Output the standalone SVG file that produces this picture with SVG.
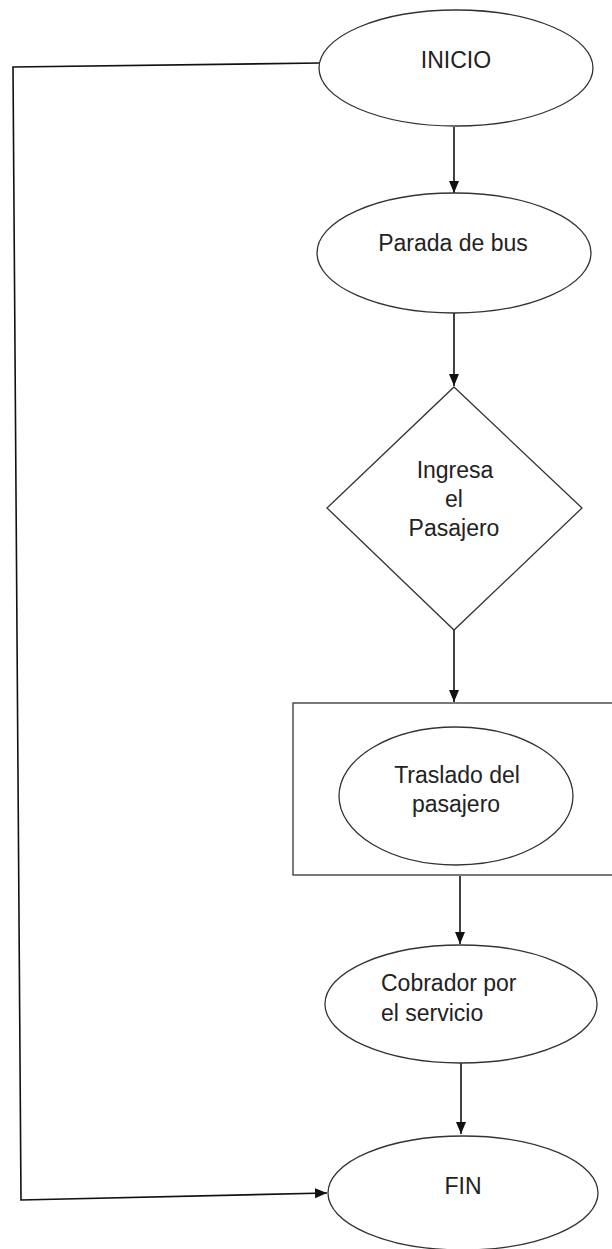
<svg xmlns="http://www.w3.org/2000/svg" width="612" height="1249" viewBox="0 0 612 1249">
<style>
.shape{fill:#fff;stroke:#333;stroke-width:1.3}
.line{fill:none;stroke:#111;stroke-width:1.6}
.t{font-family:"Liberation Sans",Arial,sans-serif;font-size:23px;fill:#222}
.c{text-anchor:middle}
</style>
<defs>
<marker id="ah" markerUnits="userSpaceOnUse" markerWidth="13" markerHeight="11" refX="12" refY="5" orient="auto">
<path d="M0,0 L12,5 L0,10 z" fill="#111"/>
</marker>
</defs>
<rect width="612" height="1249" fill="#fff"/>
<g id="connectors">
<line class="line" x1="454" y1="127" x2="454" y2="193" marker-end="url(#ah)"/>
<line class="line" x1="454" y1="313" x2="454" y2="386" marker-end="url(#ah)"/>
<line class="line" x1="454" y1="630" x2="454" y2="702" marker-end="url(#ah)"/>
<line class="line" x1="460" y1="876" x2="460" y2="944" marker-end="url(#ah)"/>
<line class="line" x1="461" y1="1063" x2="461" y2="1134" marker-end="url(#ah)"/>
<polyline class="line" points="320,63 13,67 21,1200 327,1193" marker-end="url(#ah)"/>
</g>
<g id="inicio">
<ellipse class="shape" cx="456" cy="68" rx="137" ry="58"/>
<text class="t c" x="456" y="68">INICIO</text>
</g>
<g id="parada">
<ellipse class="shape" cx="454" cy="253" rx="137" ry="60"/>
<text class="t c" x="453" y="251">Parada de bus</text>
</g>
<g id="ingresa">
<polygon class="shape" points="454,387 582,508 454,630 327,508"/>
<text class="t c" x="455" y="478">Ingresa</text>
<text class="t c" x="454" y="507">el</text>
<text class="t c" x="454" y="536">Pasajero</text>
</g>
<g id="traslado">
<rect class="shape" x="293" y="703" width="330" height="172"/>
<ellipse class="shape" cx="456" cy="796" rx="117" ry="69"/>
<text class="t c" x="457" y="783">Traslado del</text>
<text class="t c" x="456" y="812">pasajero</text>
</g>
<g id="cobrador">
<ellipse class="shape" cx="461" cy="1004" rx="136" ry="59"/>
<text class="t" x="381" y="991">Cobrador por</text>
<text class="t" x="381" y="1021">el servicio</text>
</g>
<g id="fin">
<ellipse class="shape" cx="463" cy="1193" rx="135" ry="57"/>
<text class="t c" x="463" y="1194">FIN</text>
</g>
</svg>
